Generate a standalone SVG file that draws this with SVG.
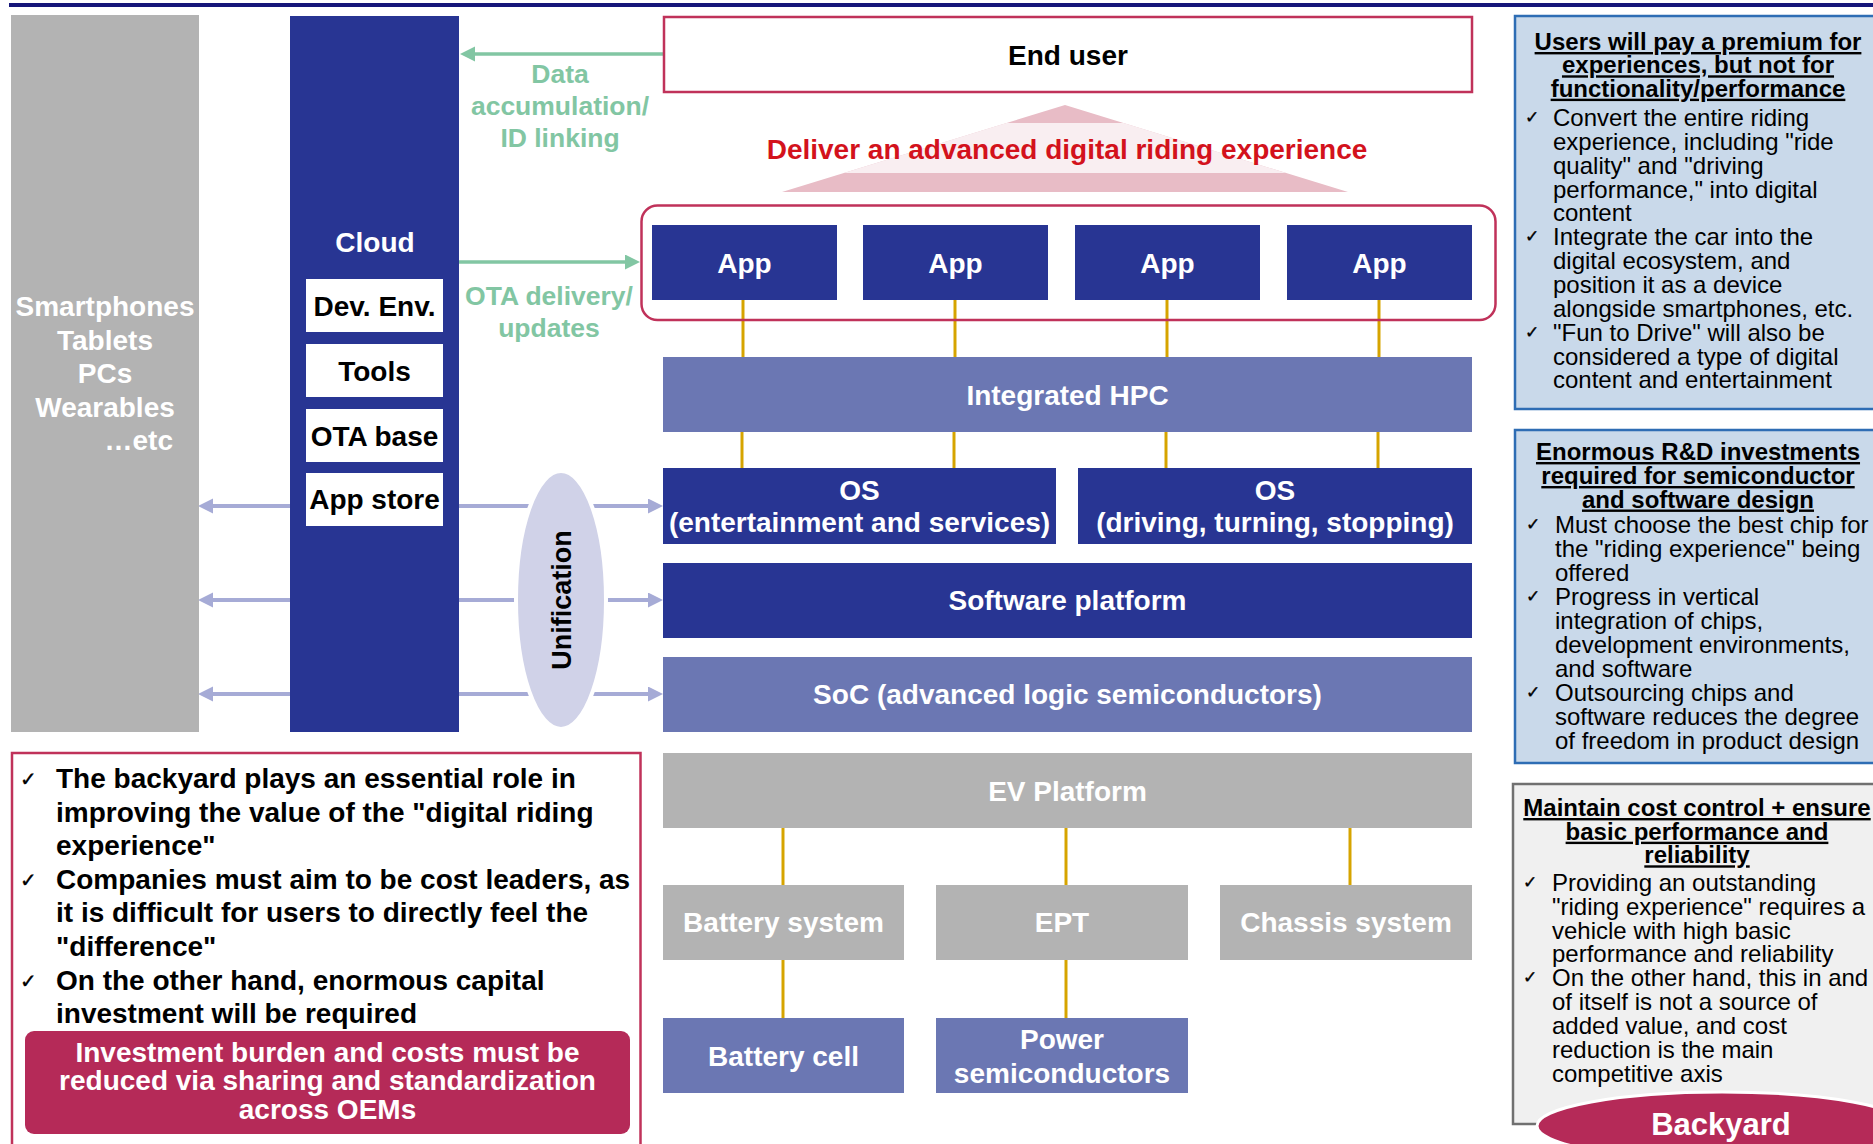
<svg xmlns="http://www.w3.org/2000/svg" width="1873" height="1144" viewBox="0 0 1873 1144">
  <style>
    text { font-family: "Liberation Sans", Arial, sans-serif; }
    .b28 { font-size: 28px; font-weight: bold; }
    .b24 { font-size: 24px; font-weight: bold; }
    .r24 { font-size: 24px; }
    .mid { text-anchor: middle; }
    .wt { fill: #ffffff; }
    .kt { fill: #000000; }
    .gt { fill: #82c6a3; font-size: 26.5px; }
    .ul { text-decoration: underline; }
    .chk { font-family: "DejaVu Sans", sans-serif; font-size: 17px; fill: #000; stroke: #000; stroke-width: 0.4; }
    .chkL { font-family: "DejaVu Sans", sans-serif; font-size: 20px; fill: #000; stroke: #000; stroke-width: 0.4; }
    .navy { fill: #283593; }
    .mblue { fill: #6b77b3; }
    .grey { fill: #b3b3b3; }
    .wbox { fill: #ffffff; }
    .gold { stroke: #d6a400; stroke-width: 3; fill: none; }
    .green { stroke: #82c6a3; stroke-width: 3.5; fill: none; }
    .lav { stroke: #a6abd6; stroke-width: 4; fill: none; }
  </style>
  <defs>
    <marker id="arrGreen" markerUnits="userSpaceOnUse" markerWidth="16" markerHeight="16" refX="0" refY="7.5" orient="auto">
      <path d="M0,0 L15,7.5 L0,15 z" fill="#82c6a3"/>
    </marker>
    <marker id="arrLav" markerUnits="userSpaceOnUse" markerWidth="16" markerHeight="16" refX="0" refY="7.5" orient="auto">
      <path d="M0,0 L15,7.5 L0,15 z" fill="#a6abd6"/>
    </marker>
  </defs>

  <!-- header rule -->
  <rect x="9" y="3" width="1864" height="4" fill="#16167a"/>

  <!-- connectors -->
  <g id="connectors">
    <line class="green" x1="664" y1="54" x2="475" y2="54" marker-end="url(#arrGreen)"/>
    <line class="green" x1="459" y1="262" x2="625" y2="262" marker-end="url(#arrGreen)"/>

    <line class="lav" x1="290" y1="506" x2="213" y2="506" marker-end="url(#arrLav)"/>
    <line class="lav" x1="290" y1="600" x2="213" y2="600" marker-end="url(#arrLav)"/>
    <line class="lav" x1="290" y1="694" x2="213" y2="694" marker-end="url(#arrLav)"/>
    <line class="lav" x1="459" y1="506" x2="648" y2="506" marker-end="url(#arrLav)"/>
    <line class="lav" x1="459" y1="600" x2="648" y2="600" marker-end="url(#arrLav)"/>
    <line class="lav" x1="459" y1="694" x2="648" y2="694" marker-end="url(#arrLav)"/>

    <line class="gold" x1="743" y1="300" x2="743" y2="357"/>
    <line class="gold" x1="955" y1="300" x2="955" y2="357"/>
    <line class="gold" x1="1167" y1="300" x2="1167" y2="357"/>
    <line class="gold" x1="1379" y1="300" x2="1379" y2="357"/>
    <line class="gold" x1="742" y1="432" x2="742" y2="468"/>
    <line class="gold" x1="954" y1="432" x2="954" y2="468"/>
    <line class="gold" x1="1166" y1="432" x2="1166" y2="468"/>
    <line class="gold" x1="1378" y1="432" x2="1378" y2="468"/>
    <line class="gold" x1="783" y1="828" x2="783" y2="885"/>
    <line class="gold" x1="1066" y1="828" x2="1066" y2="885"/>
    <line class="gold" x1="1350" y1="828" x2="1350" y2="885"/>
    <line class="gold" x1="783" y1="960" x2="783" y2="1018"/>
    <line class="gold" x1="1066" y1="960" x2="1066" y2="1018"/>
  </g>

  <!-- flow labels -->
  <g id="label-data">
    <text class="b28 mid gt" x="560" y="83">Data</text>
    <text class="b28 mid gt" x="560" y="115">accumulation/</text>
    <text class="b28 mid gt" x="560" y="147">ID linking</text>
  </g>
  <g id="label-ota">
    <text class="b28 mid gt" x="549" y="305">OTA delivery/</text>
    <text class="b28 mid gt" x="549" y="337">updates</text>
  </g>

  <!-- devices -->
  <g id="devices">
    <rect class="grey" x="11" y="15" width="188" height="717"/>
    <text class="b28 mid wt" x="105" y="316">Smartphones</text>
    <text class="b28 mid wt" x="105" y="349.5">Tablets</text>
    <text class="b28 mid wt" x="105" y="383">PCs</text>
    <text class="b28 mid wt" x="105" y="416.5">Wearables</text>
    <text class="b28 wt" text-anchor="end" x="173" y="450">…etc</text>
  </g>

  <!-- cloud -->
  <g id="cloud">
    <rect class="navy" x="290" y="16" width="169" height="716"/>
    <text class="b28 mid wt" x="375" y="252">Cloud</text>
    <rect class="wbox" x="306" y="279" width="137" height="53"/>
    <text class="b28 mid kt" x="374.5" y="316">Dev. Env.</text>
    <rect class="wbox" x="306" y="344" width="137" height="53"/>
    <text class="b28 mid kt" x="374.5" y="381">Tools</text>
    <rect class="wbox" x="306" y="409" width="137" height="53"/>
    <text class="b28 mid kt" x="374.5" y="446">OTA base</text>
    <rect class="wbox" x="306" y="473" width="137" height="53"/>
    <text class="b28 mid kt" x="374.5" y="509">App store</text>
  </g>

  <!-- unification -->
  <g id="unification">
    <ellipse cx="561" cy="600" rx="45" ry="129" fill="#d0d2e8" stroke="#ffffff" stroke-width="4"/>
    <text class="b28 mid kt" style="font-size:27px" transform="translate(571,600) rotate(-90)" x="0" y="0">Unification</text>
  </g>

  <!-- end user -->
  <g id="end-user">
    <rect x="664" y="17" width="808" height="75" fill="#ffffff" stroke="#c0325a" stroke-width="2.5"/>
    <text class="b28 mid kt" x="1068" y="65">End user</text>
  </g>

  <!-- experience banner -->
  <g id="experience">
    <polygon points="1065,105 1348,192 782,192" fill="#e8bcc6"/>
    <polygon points="1006.4,123 1123.6,123 1286.2,173 843.8,173" fill="#f9eef1"/>
    <text class="b28 mid" fill="#d3121c" x="1067" y="159">Deliver an advanced digital riding experience</text>
  </g>

  <!-- apps -->
  <g id="apps">
    <rect x="641.5" y="205.5" width="854" height="114.5" rx="16" fill="none" stroke="#c0325a" stroke-width="2.5"/>
    <rect class="navy" x="652" y="225" width="185" height="75"/>
    <text class="b28 mid wt" x="744.5" y="273">App</text>
    <rect class="navy" x="863" y="225" width="185" height="75"/>
    <text class="b28 mid wt" x="955.5" y="273">App</text>
    <rect class="navy" x="1075" y="225" width="185" height="75"/>
    <text class="b28 mid wt" x="1167.5" y="273">App</text>
    <rect class="navy" x="1287" y="225" width="185" height="75"/>
    <text class="b28 mid wt" x="1379.5" y="273">App</text>
  </g>

  <g id="hpc">
    <rect class="mblue" x="663" y="357" width="809" height="75"/>
    <text class="b28 mid wt" x="1067.5" y="405">Integrated HPC</text>
  </g>

  <g id="os-entertainment">
    <rect class="navy" x="663" y="468" width="393" height="76"/>
    <text class="b28 mid wt" x="859.5" y="500">OS</text>
    <text class="b28 mid wt" x="859.5" y="532">(entertainment and services)</text>
  </g>

  <g id="os-driving">
    <rect class="navy" x="1078" y="468" width="394" height="76"/>
    <text class="b28 mid wt" x="1275" y="500">OS</text>
    <text class="b28 mid wt" x="1275" y="532">(driving, turning, stopping)</text>
  </g>

  <g id="software-platform">
    <rect class="navy" x="663" y="563" width="809" height="75"/>
    <text class="b28 mid wt" x="1067.5" y="610">Software platform</text>
  </g>

  <g id="soc">
    <rect class="mblue" x="663" y="657" width="809" height="75"/>
    <text class="b28 mid wt" x="1067.5" y="704">SoC (advanced logic semiconductors)</text>
  </g>

  <g id="ev-platform">
    <rect class="grey" x="663" y="753" width="809" height="75"/>
    <text class="b28 mid wt" x="1067.5" y="801">EV Platform</text>
  </g>

  <g id="battery-system">
    <rect class="grey" x="663" y="885" width="241" height="75"/>
    <text class="b28 mid wt" x="783.5" y="932">Battery system</text>
  </g>

  <g id="ept">
    <rect class="grey" x="936" y="885" width="252" height="75"/>
    <text class="b28 mid wt" x="1062" y="932">EPT</text>
  </g>

  <g id="chassis-system">
    <rect class="grey" x="1220" y="885" width="252" height="75"/>
    <text class="b28 mid wt" x="1346" y="932">Chassis system</text>
  </g>

  <g id="battery-cell">
    <rect class="mblue" x="663" y="1018" width="241" height="75"/>
    <text class="b28 mid wt" x="783.5" y="1066">Battery cell</text>
  </g>

  <g id="power-semis">
    <rect class="mblue" x="936" y="1018" width="252" height="75"/>
    <text class="b28 mid wt" x="1062" y="1049">Power</text>
    <text class="b28 mid wt" x="1062" y="1082.5">semiconductors</text>
  </g>

  <!-- backyard commentary -->
  <g id="backyard-notes">
    <rect x="12" y="753" width="628.5" height="400" fill="#ffffff" stroke="#c0325a" stroke-width="2.5"/>
    <text class="chkL" x="20" y="786">✓</text>
    <text class="b28 kt" x="56" y="788">The backyard plays an essential role in</text>
    <text class="b28 kt" x="56" y="821.6">improving the value of the "digital riding</text>
    <text class="b28 kt" x="56" y="855.2">experience"</text>
    <text class="chkL" x="20" y="887">✓</text>
    <text class="b28 kt" x="56" y="888.8">Companies must aim to be cost leaders, as</text>
    <text class="b28 kt" x="56" y="922.4">it is difficult for users to directly feel the</text>
    <text class="b28 kt" x="56" y="956">"difference"</text>
    <text class="chkL" x="20" y="988">✓</text>
    <text class="b28 kt" x="56" y="989.6">On the other hand, enormous capital</text>
    <text class="b28 kt" x="56" y="1023.2">investment will be required</text>
    <rect x="25" y="1031" width="605" height="103" rx="9" fill="#b52a58"/>
    <text class="b28 mid wt" x="327.5" y="1061.5">Investment burden and costs must be</text>
    <text class="b28 mid wt" x="327.5" y="1090.3">reduced via sharing and standardization</text>
    <text class="b28 mid wt" x="327.5" y="1119">across OEMs</text>
  </g>

  <!-- right-hand commentary panels -->
  <g id="panel-premium">
    <rect x="1515" y="16" width="370" height="393" fill="#c9d9ea" stroke="#2e6db4" stroke-width="2.5"/>
    <text class="b24 mid kt ul" x="1698" y="50">Users will pay a premium for</text>
    <text class="b24 mid kt ul" x="1698" y="73.3">experiences, but not for</text>
    <text class="b24 mid kt ul" x="1698" y="96.7">functionality/performance</text>
    <text class="chk" x="1525" y="123">✓</text>
    <text class="r24 kt" x="1553" y="126">Convert the entire riding</text>
    <text class="r24 kt" x="1553" y="149.9">experience, including "ride</text>
    <text class="r24 kt" x="1553" y="173.7">quality" and "driving</text>
    <text class="r24 kt" x="1553" y="197.6">performance," into digital</text>
    <text class="r24 kt" x="1553" y="221.4">content</text>
    <text class="chk" x="1525" y="242.3">✓</text>
    <text class="r24 kt" x="1553" y="245.3">Integrate the car into the</text>
    <text class="r24 kt" x="1553" y="269.1">digital ecosystem, and</text>
    <text class="r24 kt" x="1553" y="293">position it as a device</text>
    <text class="r24 kt" x="1553" y="316.8">alongside smartphones, etc.</text>
    <text class="chk" x="1525" y="337.7">✓</text>
    <text class="r24 kt" x="1553" y="340.7">"Fun to Drive" will also be</text>
    <text class="r24 kt" x="1553" y="364.5">considered a type of digital</text>
    <text class="r24 kt" x="1553" y="388.4">content and entertainment</text>
  </g>

  <g id="panel-rnd">
    <rect x="1515" y="430" width="370" height="333" fill="#c9d9ea" stroke="#2e6db4" stroke-width="2.5"/>
    <text class="b24 mid kt ul" x="1698" y="460">Enormous R&amp;D investments</text>
    <text class="b24 mid kt ul" x="1698" y="484">required for semiconductor</text>
    <text class="b24 mid kt ul" x="1698" y="507.5">and software design</text>
    <text class="chk" x="1526" y="530.3">✓</text>
    <text class="r24 kt" x="1555" y="533.3">Must choose the best chip for</text>
    <text class="r24 kt" x="1555" y="557.3">the "riding experience" being</text>
    <text class="r24 kt" x="1555" y="581.3">offered</text>
    <text class="chk" x="1526" y="602.3">✓</text>
    <text class="r24 kt" x="1555" y="605.3">Progress in vertical</text>
    <text class="r24 kt" x="1555" y="629.3">integration of chips,</text>
    <text class="r24 kt" x="1555" y="653.3">development environments,</text>
    <text class="r24 kt" x="1555" y="677.3">and software</text>
    <text class="chk" x="1526" y="698.3">✓</text>
    <text class="r24 kt" x="1555" y="701.3">Outsourcing chips and</text>
    <text class="r24 kt" x="1555" y="725.3">software reduces the degree</text>
    <text class="r24 kt" x="1555" y="749.3">of freedom in product design</text>
  </g>

  <g id="panel-cost">
    <rect x="1513" y="784" width="372" height="340" fill="#f0f0f0" stroke="#707070" stroke-width="2.5"/>
    <text class="b24 mid kt ul" x="1697" y="816">Maintain cost control + ensure</text>
    <text class="b24 mid kt ul" x="1697" y="839.7">basic performance and</text>
    <text class="b24 mid kt ul" x="1697" y="863.3">reliability</text>
    <text class="chk" x="1523" y="887.7">✓</text>
    <text class="r24 kt" x="1552" y="890.7">Providing an outstanding</text>
    <text class="r24 kt" x="1552" y="914.6">"riding experience" requires a</text>
    <text class="r24 kt" x="1552" y="938.5">vehicle with high basic</text>
    <text class="r24 kt" x="1552" y="962.4">performance and reliability</text>
    <text class="chk" x="1523" y="983.3">✓</text>
    <text class="r24 kt" x="1552" y="986.3">On the other hand, this in and</text>
    <text class="r24 kt" x="1552" y="1010.2">of itself is not a source of</text>
    <text class="r24 kt" x="1552" y="1034.1">added value, and cost</text>
    <text class="r24 kt" x="1552" y="1058">reduction is the main</text>
    <text class="r24 kt" x="1552" y="1081.9">competitive axis</text>
  </g>

  <g id="backyard-tag">
    <ellipse cx="1722" cy="1126" rx="185" ry="34" fill="#b52a58" stroke="#ffffff" stroke-width="3"/>
    <text class="b28 mid wt" style="font-size:31px" x="1721" y="1135">Backyard</text>
  </g>
</svg>
